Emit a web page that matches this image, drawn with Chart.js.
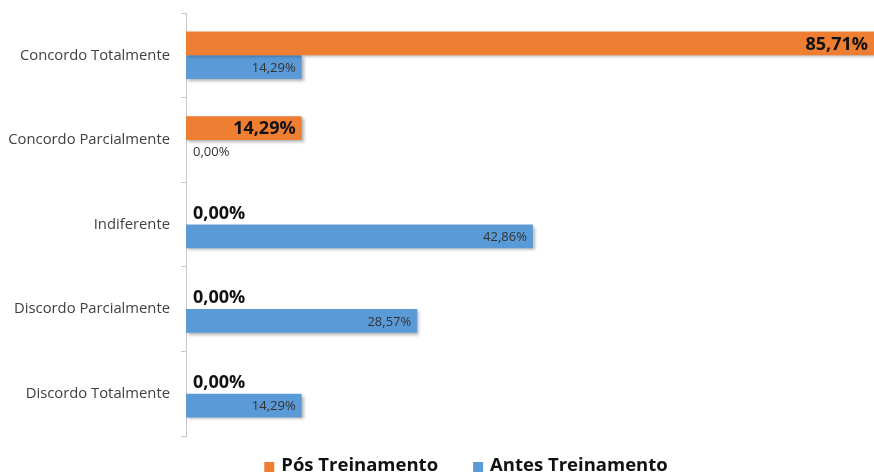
<!DOCTYPE html>
<html>
<head>
<meta charset="utf-8">
<script src="https://cdn.jsdelivr.net/npm/chart.js@4"></script>
<style>
  html, body { margin: 0; padding: 0; background: #fff; }
  #wrap { width: 874px; height: 474px; }
</style>
</head>
<body>
<div id="wrap"><canvas id="grafico"></canvas></div>
<script>
// respostas por categoria (%)
const categorias = ['Concordo Totalmente', 'Concordo Parcialmente', 'Indiferente', 'Discordo Parcialmente', 'Discordo Totalmente'];
const posTreinamento = [85.71, 14.29, 0, 0, 0];
const antesTreinamento = [14.29, 0, 42.86, 28.57, 14.29];
const xMax = 85;

const fmt = v => v.toFixed(2).replace('.', ',') + '%';

// sombra leve nas barras
const sombra = {
    id: 'sombra',
    beforeDatasetsDraw(chart) {
        const c = chart.ctx;
        c.save();
        c.shadowColor = 'rgba(0,0,0,0.3)';
        c.shadowOffsetX = 2;
        c.shadowOffsetY = 2;
        c.shadowBlur = 3;
    },
    afterDatasetsDraw(chart) {
        chart.ctx.restore();
    }
};

// rótulos de valor
const rotulos = {
    id: 'rotulos',
    afterDraw(chart) {
        const c = chart.ctx;
        const area = chart.chartArea;
        chart.data.datasets.forEach((ds, i) => {
            const meta = chart.getDatasetMeta(i);
            meta.data.forEach((bar, j) => {
                const v = ds.data[j];
                c.save();
                c.font = i === 0 ? 'bold 18px "Open Sans"' : '13px "Open Sans"';
                c.fillStyle = i === 0 ? '#111' : '#333';
                c.textBaseline = 'middle';
                if (v > 0) {
                    c.textAlign = 'right';
                    c.fillText(fmt(v), Math.min(bar.x, area.right) - 6, bar.y + 1);
                } else {
                    c.textAlign = 'left';
                    c.fillText(fmt(v), bar.base + 7, bar.y + 1);
                }
                c.restore();
            });
        });
    }
};

// legenda embaixo
const legenda = {
    id: 'legenda',
    afterDraw(chart) {
        const c = chart.ctx;
        const box = 10, gapTxt = 7, gapItem = 35;
        c.save();
        c.font = 'bold 18.5px "Open Sans"';
        c.textBaseline = 'middle';
        const itens = chart.data.datasets.map(ds => ({ t: ds.label, cor: ds.backgroundColor, w: c.measureText(ds.label).width }));
        const total = itens.reduce((s, it) => s + box + gapTxt + it.w, 0) + gapItem * (itens.length - 1);
        let x = 466 - total / 2;
        const y = 466;
        itens.forEach(it => {
            c.fillStyle = it.cor;
            c.fillRect(x, y - box / 2 + 1, box, box);
            x += box + gapTxt;
            c.fillStyle = '#111';
            c.fillText(it.t, x, y);
            x += it.w + gapItem;
        });
        c.restore();
    }
};

new Chart(document.getElementById('grafico'), {
    type: 'bar',
    data: {
        labels: categorias,
        datasets: [{
            label: 'Pós Treinamento',
            data: posTreinamento,
            backgroundColor: '#EE7E32',
            categoryPercentage: 0.56,
            barPercentage: 1
        }, {
            label: 'Antes Treinamento',
            data: antesTreinamento,
            backgroundColor: '#5A9AD6',
            categoryPercentage: 0.56,
            barPercentage: 1
        }]
    },
    options: {
        indexAxis: 'y',
        responsive: true,
        maintainAspectRatio: false,
        animation: false,
        layout: { padding: { left: 0, top: 13, right: 0, bottom: 38 } },
        scales: {
            x: { display: false, min: 0, max: xMax },
            y: {
                afterFit(s) { s.width = 186; s.paddingTop = 0; s.paddingBottom = 0; },
                border: { display: true, color: '#c8c8c8' },
                grid: { offset: true, drawOnChartArea: false, tickLength: 5, color: '#c8c8c8' },
                ticks: { color: '#404040', font: { family: 'Open Sans', size: 14.8 }, padding: 11 }
            }
        },
        plugins: {
            tooltip: { enabled: false },
            legend: { display: false }
        }
    },
    plugins: [sombra, rotulos, legenda]
});
</script>
</body>
</html>
